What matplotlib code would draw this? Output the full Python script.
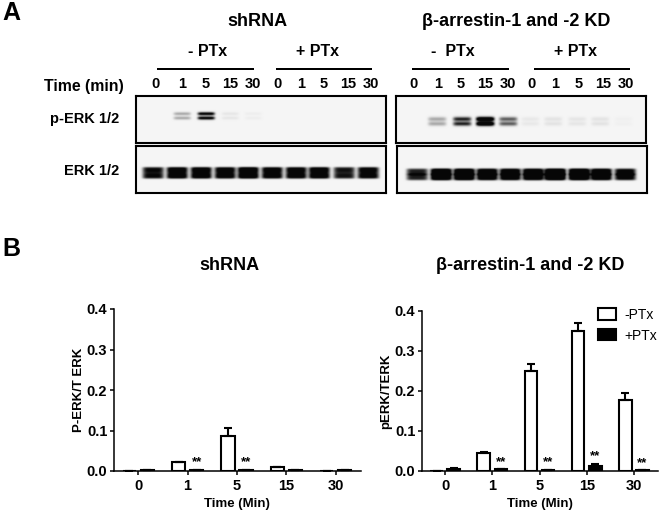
import numpy as np
import matplotlib
matplotlib.use("Agg")
import matplotlib.pyplot as plt
from matplotlib.patches import Rectangle

plt.rcParams["font.family"] = ["Liberation Sans", "DejaVu Sans"]
plt.rcParams["font.weight"] = "bold"
plt.rcParams["axes.labelweight"] = "bold"

times = ["0", "1", "5", "15", "30"]

# densitometry, panel B
sh_minus = [0.0, 0.023, 0.087, 0.011, 0.0]
sh_minus_err = [0.0, 0.0, 0.018, 0.0, 0.0]
sh_plus = [0.003, 0.003, 0.003, 0.003, 0.003]
sh_plus_err = [0.0, 0.0, 0.0, 0.0, 0.0]
sh_stars = [False, True, True, False, False]

kd_minus = [0.0, 0.044, 0.25, 0.35, 0.177]
kd_minus_err = [0.0, 0.004, 0.017, 0.02, 0.018]
kd_plus = [0.006, 0.004, 0.002, 0.013, 0.002]
kd_plus_err = [0.001, 0.001, 0.001, 0.005, 0.0]
kd_stars = [False, True, True, True, True]

# band strength per lane, panel A (0 = nothing, 1 = saturated)
sh_perk = [0, 0.3, 1.1, 0.06, 0.03, 0, 0, 0, 0, 0]
sh_erk = [0.95, 1.15, 1.15, 1.1, 1.25, 1.1, 1.1, 1.15, 0.9, 1.05]
kd_perk = [0, 0.3, 0.85, 1.5, 0.6, 0.05, 0.07, 0.06, 0.07, 0.02]
kd_erk = [0.85, 1.4, 1.4, 1.25, 1.25, 1.3, 1.5, 1.45, 1.3, 1.05]

W, H = 661, 514
fig = plt.figure(figsize=(W / 100, H / 100), dpi=100)


def px_axes(x0, y0, x1, y1):
    return fig.add_axes([x0 / W, 1 - y1 / H, (x1 - x0) / W, (y1 - y0) / H])


def draw_blot(box, lanes, strengths, rows, lane_w, band_h, band_pow=2):
    x0, y0, x1, y1 = box
    ax = px_axes(x0, y0, x1, y1)
    xx, yy = np.meshgrid(np.arange(x0, x1, 0.5), np.arange(y0, y1, 0.5))
    dark = np.zeros_like(xx)
    for lx, s in zip(lanes, strengths):
        for ry in rows:
            dark += s * np.exp(-(((xx - lx) / lane_w) ** 6)) * np.exp(-(np.abs((yy - ry) / band_h) ** band_pow))
    ax.imshow(0.96 - np.clip(dark, 0, 0.93), cmap="gray", vmin=0, vmax=1, aspect="auto",
              extent=(x0, x1, y1, y0), interpolation="bilinear")
    ax.set_xticks([])
    ax.set_yticks([])
    for s in ax.spines.values():
        s.set_linewidth(1.5)


sh_lanes = [153, 177, 201, 225, 248, 272, 296, 319, 344, 368]
kd_lanes_top = [412, 437, 462, 485, 508, 530, 553, 577, 600, 623]
kd_lanes_low = [417, 441, 464, 487, 510, 533, 555, 579, 601, 625]

draw_blot((136, 96, 386, 143), [l + 5 for l in sh_lanes], sh_perk, [113.5, 117.8], 8.5, 1.6)
draw_blot((136, 146, 386, 193), sh_lanes, sh_erk, [169.8, 175.4], 10.5, 3.0, 4)
draw_blot((396, 96, 646, 143), kd_lanes_top, kd_perk, [118.8, 123.5], 9, 2.1)
draw_blot((397, 146, 647, 193), kd_lanes_low, kd_erk, [171.5, 176.8], 10.5, 3.2, 4)


def draw_bars(box, minus, minus_err, plus, plus_err, stars, ylabel):
    ax = px_axes(*box)
    pos = np.arange(len(times))
    off, w = 0.182, 0.27
    b1 = ax.bar(pos - off, minus, w, color="white", edgecolor="black", linewidth=1.5, label="-PTx")
    b2 = ax.bar(pos + off, plus, w, color="black", edgecolor="black", linewidth=1.5, label="+PTx")
    ax.errorbar(pos - off, minus, yerr=[np.zeros(5), minus_err], fmt="none", ecolor="black",
                elinewidth=1.5, capsize=3, capthick=1.5)
    ax.errorbar(pos + off, plus, yerr=[np.zeros(5), plus_err], fmt="none", ecolor="black",
                elinewidth=1.5, capsize=3, capthick=1.5)
    for i, s in enumerate(stars):
        if s:
            ax.text(i + off, plus[i] + plus_err[i] + 0.018, "**", ha="center", va="center", fontsize=9.5)
    ax.set_xlim(-0.5, 4.5)
    ax.set_ylim(0, 0.4)
    ax.set_xticks(pos, times)
    ax.set_yticks([0, 0.1, 0.2, 0.3, 0.4], ["0.0", "0.1", "0.2", "0.3", "0.4"])
    ax.tick_params(labelsize=10.5, width=1.1, length=3, pad=1.5)
    ax.tick_params(axis="x", pad=3)
    ax.spines[["top", "right"]].set_visible(False)
    ax.spines[["left", "bottom"]].set_linewidth(1.1)
    ax.set_xlabel("Time (Min)", fontsize=9.5, labelpad=3)
    ax.set_ylabel(ylabel, fontsize=9.5, labelpad=1.5)
    ax.patch.set_alpha(0)
    return ax, b1, b2


draw_bars((113.5, 309, 360.5, 471), sh_minus, sh_minus_err, sh_plus, sh_plus_err, sh_stars, "P-ERK/T ERK")
ax_kd, b1, b2 = draw_bars((421.5, 311, 657.5, 471), kd_minus, kd_minus_err, kd_plus, kd_plus_err, kd_stars, "pERK/TERK")
leg = ax_kd.legend(handles=[b1, b2], loc="upper right", bbox_to_anchor=(1.0, 1.02), frameon=False,
                   prop={"size": 10, "weight": "normal"}, handlelength=1.35, handleheight=0.85,
                   handletextpad=0.6, labelspacing=0.5, borderpad=0, borderaxespad=0)

# page-level labels in pixel coordinates
page = fig.add_axes([0, 0, 1, 1])
page.set_xlim(0, W)
page.set_ylim(H, 0)
page.axis("off")
page.patch.set_alpha(0)

page.text(2, 13, "A", fontsize=18, ha="left", va="center")
page.text(2, 249, "B", fontsize=18, ha="left", va="center")
page.text(257, 21, "shRNA", fontsize=13, ha="center", va="center")
page.text(516, 21, "β-arrestin-1 and -2 KD", fontsize=13, ha="center", va="center")
page.text(229, 266, "shRNA", fontsize=13, ha="center", va="center")
page.text(530, 266, "β-arrestin-1 and -2 KD", fontsize=13, ha="center", va="center")

for x, label in [(208, "- PTx"), (318, "+ PTx"), (453, "-  PTx"), (575, "+ PTx")]:
    page.text(x, 52, label, fontsize=11.5, ha="center", va="center")
for x0, x1 in [(157, 254), (276, 372), (412, 509), (534, 630)]:
    page.add_patch(Rectangle((x0, 67.5), x1 - x0, 2, color="black", lw=0))

page.text(124, 87, "Time (min)", fontsize=11.4, ha="right", va="center")
page.text(119, 119, "p-ERK 1/2", fontsize=10.5, ha="right", va="center")
page.text(119, 171, "ERK 1/2", fontsize=10.5, ha="right", va="center")

sh_label_x = [155, 182, 206, 230, 253, 277, 301, 324, 348, 371]
kd_label_x = [414, 438, 461, 485, 508, 532, 555, 579, 603, 626]
for xs in (sh_label_x, kd_label_x):
    for x, t in zip(xs, times * 2):
        page.text(x, 84, t, fontsize=10.5, ha="center", va="center")

fig.savefig("out.png", dpi=100, facecolor="white")
